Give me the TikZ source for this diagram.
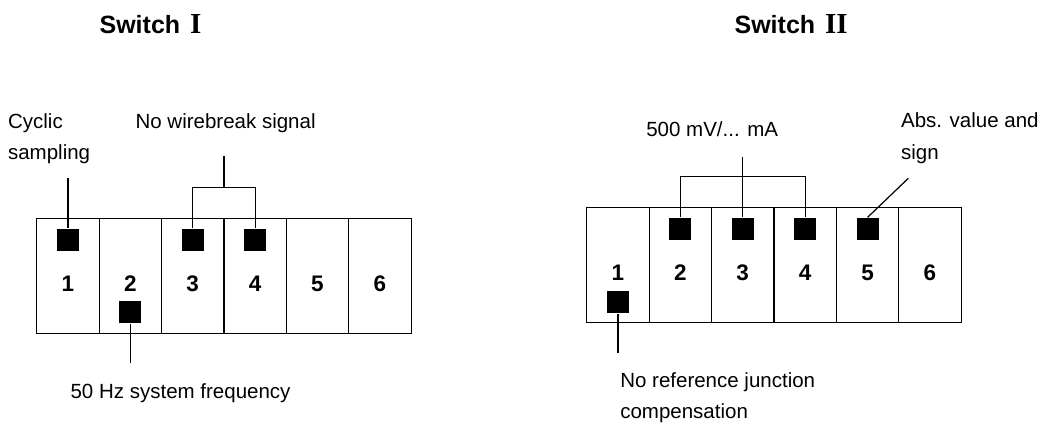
\documentclass[tikz,border=0pt]{standalone}
\usepackage{fontspec}
\setmainfont{Liberation Sans}
\newfontfamily\romfont{Liberation Serif}
\begin{document}
\begin{tikzpicture}[x=1pt,y=-1pt,line width=1.2pt,
  cellbox/.style={draw,rectangle,minimum width=62.4pt,minimum height=114.5pt,inner sep=0pt,line width=1.2pt},
  dipsq/.style={fill=black,draw=none,rectangle,minimum size=22pt,inner sep=0pt},
  digit/.style={font=\fontsize{22.5}{27}\selectfont\bfseries,anchor=base,inner sep=0pt},
  lbl/.style={font=\fontsize{20.5}{25}\selectfont,anchor=base west,inner sep=0pt},
  ttl/.style={font=\fontsize{25}{30}\selectfont\bfseries,anchor=base west,inner sep=0pt}]
\useasboundingbox (0,0) rectangle (1040,424);
% ---------- Switch I ----------
\node[ttl] (t1) at (99,33.3) {Switch\hspace{10pt}{\romfont\bfseries\fontsize{29}{30}\selectfont I}};
\foreach \i in {1,...,6}{
  \node[cellbox] (L\i) at ({36.7+62.4*(\i-0.5)},276) {};
  \node[digit] (Ld\i) at ({36.7+62.4*(\i-0.5)},291) {\i};
}
\node[dipsq] (sqL1) at (67.9,239.5) {};
\node[dipsq] (sqL3) at (192.7,239.5) {};
\node[dipsq] (sqL4) at (255.1,239.5) {};
\node[dipsq] (sqL2) at (130.3,312) {};
\node[lbl] (cyc1) at (7.5,128.3) {Cyclic};
\node[lbl] (cyc2) at (7.5,159.3) {sampling};
\node[lbl] (wb) at (135,128.3) {No wirebreak signal};
\node[lbl] (hz) at (70,398.3) {50 Hz system frequency};
\coordinate (cycEnd) at (67.9,178);
\coordinate (wbEnd) at (224,155.7);
\coordinate (wbJoin) at (224,187.7);
\coordinate (hzEnd) at (130.3,363.3);
\draw (cycEnd) -- (sqL1.north);
\draw (wbEnd) -- (wbJoin);
\draw (sqL3.north) |- (wbJoin) -| (sqL4.north);
\draw (sqL2.south) -- (hzEnd);
% ---------- Switch II ----------
\node[ttl] (t2) at (734,33.3) {Switch\hspace{10pt}{\romfont\bfseries\fontsize{29}{30}\selectfont II}};
\foreach \i in {1,...,6}{
  \node[cellbox] (R\i) at ({586.7+62.4*(\i-0.5)},265) {};
  \node[digit] (Rd\i) at ({586.7+62.4*(\i-0.5)},280) {\i};
}
\node[dipsq] (sqR2) at (680.3,229) {};
\node[dipsq] (sqR3) at (742.7,229) {};
\node[dipsq] (sqR4) at (805.1,229) {};
\node[dipsq] (sqR5) at (867.5,229) {};
\node[dipsq] (sqR1) at (617.9,302) {};
\node[lbl] (mv) at (645.7,136.7) {500 mV/... mA};
\node[lbl] (abs1) at (900.5,127.7) {Abs. value and};
\node[lbl] (abs2) at (900.5,159.3) {sign};
\node[lbl] (nr1) at (619.7,387.7) {No reference junction};
\node[lbl] (nr2) at (619.7,418) {compensation};
\coordinate (mvEnd) at (742.7,156.7);
\coordinate (mvJoin) at (742.7,176.7);
\coordinate (absEnd) at (908.3,178.3);
\coordinate (nrEnd) at (617.9,352.7);
\draw (mvEnd) -- (sqR3.north);
\draw (sqR2.north) |- (mvJoin) -| (sqR4.north);
\draw (absEnd) -- (sqR5.north);
\draw (sqR1.south) -- (nrEnd);
\end{tikzpicture}
\end{document}
